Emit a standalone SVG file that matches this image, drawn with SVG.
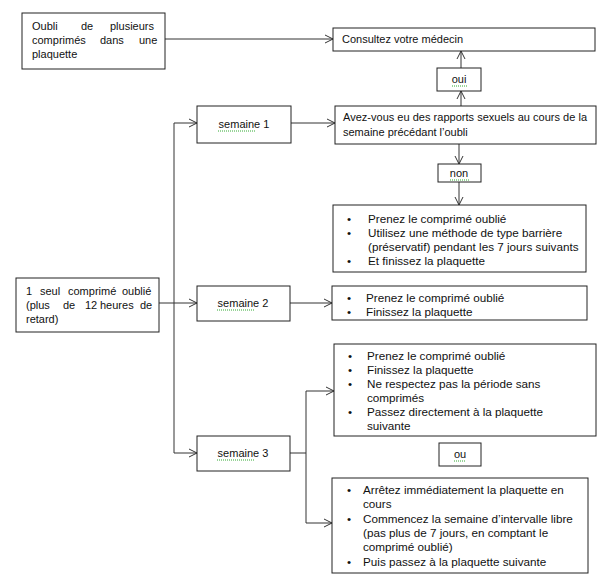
<svg xmlns="http://www.w3.org/2000/svg" width="607" height="588" viewBox="0 0 607 588">
<style>
.box{fill:#fff;stroke:#222;stroke-width:1}
.t{font-family:"Liberation Sans",Arial,sans-serif;font-size:11px;fill:#111}
.b{font-family:"Liberation Sans",Arial,sans-serif;font-size:11.7px;fill:#111}
.c{text-anchor:middle}
.ln{fill:none;stroke:#333;stroke-width:1}
.sq{fill:none;stroke:#3a3;stroke-width:1;stroke-dasharray:1 1}
</style>
<defs>
<marker id="a" markerWidth="10" markerHeight="10" refX="9" refY="5" orient="auto" markerUnits="userSpaceOnUse">
<path d="M1,1 L9,5 L1,9" fill="none" stroke="#333" stroke-width="1"/>
</marker>
</defs>
<rect width="607" height="588" fill="#fff"/>
<g id="connectors">
<line class="ln" x1="165" y1="39" x2="333" y2="39" marker-end="url(#a)"/>
<line class="ln" x1="461" y1="106" x2="461" y2="91" marker-end="url(#a)"/>
<line class="ln" x1="461" y1="68" x2="461" y2="51" marker-end="url(#a)"/>
<line class="ln" x1="459" y1="144" x2="459" y2="164" marker-end="url(#a)"/>
<line class="ln" x1="459" y1="182" x2="459" y2="205" marker-end="url(#a)"/>
<line class="ln" x1="291" y1="123" x2="335" y2="123" marker-end="url(#a)"/>
<line class="ln" x1="174" y1="123" x2="174" y2="453"/>
<line class="ln" x1="174" y1="123" x2="197" y2="123" marker-end="url(#a)"/>
<line class="ln" x1="174" y1="453" x2="197" y2="453" marker-end="url(#a)"/>
<line class="ln" x1="159" y1="303" x2="197" y2="303" marker-end="url(#a)"/>
<line class="ln" x1="290" y1="303" x2="332" y2="303" marker-end="url(#a)"/>
<polyline class="ln" points="290,453 306,453"/>
<line class="ln" x1="306" y1="391" x2="306" y2="523"/>
<line class="ln" x1="306" y1="391" x2="334" y2="391" marker-end="url(#a)"/>
<line class="ln" x1="306" y1="523" x2="332" y2="523" marker-end="url(#a)"/>
</g>
<g id="n-plusieurs">
<rect class="box" x="22" y="13" width="143" height="56"/>
<text class="t" y="30"><tspan x="32">Oubli</tspan><tspan x="81">de</tspan><tspan x="110">plusieurs</tspan></text>
<text class="t" y="44"><tspan x="32">comprimés</tspan><tspan x="100">dans</tspan><tspan x="139">une</tspan></text>
<text class="t" x="32" y="58">plaquette</text>
</g>
<g id="n-medecin">
<rect class="box" x="333" y="28" width="262" height="23"/>
<text class="t" x="342" y="43">Consultez votre médecin</text>
</g>
<g id="n-oui">
<rect class="box" x="437" y="68" width="44" height="23"/>
<text class="t c" x="459" y="83">oui</text>
<path class="sq" d="M452,86 H467"/>
</g>
<g id="n-question">
<rect class="box" x="335" y="106" width="261" height="38"/>
<text class="t" x="343" y="121" textLength="244" lengthAdjust="spacing">Avez-vous eu des rapports sexuels au cours de la</text>
<text class="t" x="343" y="136">semaine précédant  l’oubli</text>
</g>
<g id="n-semaine1">
<rect class="box" x="197" y="106" width="94" height="37"/>
<text class="t c" x="244" y="128">semaine 1</text>
<path class="sq" d="M218,131 H256"/>
</g>
<g id="n-non">
<rect class="box" x="438" y="164" width="43" height="18"/>
<text class="t c" x="459" y="177">non</text>
<path class="sq" d="M450,180 H469"/>
</g>
<g id="n-s1-actions">
<rect class="box" x="333" y="205" width="253" height="67"/>
<g class="b">
<text x="347" y="223">•</text><text x="368" y="223">Prenez le comprimé oublié</text>
<text x="347" y="237">•</text><text x="368" y="237">Utilisez une méthode de type barrière</text>
<text x="368" y="251">(préservatif) pendant les 7 jours suivants</text>
<text x="347" y="265">•</text><text x="368" y="265">Et finissez la plaquette</text>
</g>
</g>
<g id="n-un-seul">
<rect class="box" x="16" y="278" width="143" height="54"/>
<text class="t" y="295"><tspan x="26">1</tspan><tspan x="40">seul</tspan><tspan x="68">comprimé</tspan><tspan x="122">oublié</tspan></text>
<text class="t" y="309"><tspan x="26">(plus</tspan><tspan x="63">de</tspan><tspan x="85">12</tspan><tspan x="100">heures</tspan><tspan x="140">de</tspan></text>
<text class="t" x="26" y="323">retard)</text>
</g>
<g id="n-semaine2">
<rect class="box" x="197" y="286" width="93" height="35"/>
<text class="t c" x="243" y="307">semaine 2</text>
<path class="sq" d="M217,310 H255"/>
</g>
<g id="n-s2-actions">
<rect class="box" x="332" y="286" width="255" height="34"/>
<g class="b">
<text x="347" y="302">•</text><text x="366" y="302">Prenez le comprimé oublié</text>
<text x="347" y="316">•</text><text x="366" y="316">Finissez la plaquette</text>
</g>
</g>
<g id="n-s3-continue">
<rect class="box" x="334" y="344" width="262" height="92"/>
<g class="b">
<text x="348" y="360">•</text><text x="367" y="360">Prenez le comprimé oublié</text>
<text x="348" y="374">•</text><text x="367" y="374">Finissez la plaquette</text>
<text x="348" y="388">•</text><text x="367" y="388">Ne respectez pas la période sans</text>
<text x="367" y="402">comprimés</text>
<text x="348" y="416">•</text><text x="367" y="416">Passez directement à la plaquette</text>
<text x="367" y="430">suivante</text>
</g>
</g>
<g id="n-semaine3">
<rect class="box" x="197" y="436" width="93" height="35"/>
<text class="t c" x="243" y="457">semaine 3</text>
<path class="sq" d="M217,460 H255"/>
</g>
<g id="n-ou">
<rect class="box" x="439" y="443" width="42" height="23"/>
<text class="t c" x="460" y="458">ou</text>
<path class="sq" d="M454,461 H466"/>
</g>
<g id="n-s3-stop">
<rect class="box" x="332" y="478" width="256" height="95"/>
<g class="b">
<text x="347" y="494">•</text><text x="363" y="494">Arrêtez immédiatement la plaquette en</text>
<text x="363" y="508">cours</text>
<text x="347" y="523">•</text><text x="363" y="523">Commencez la semaine d’intervalle libre</text>
<text x="363" y="537">(pas plus de 7 jours, en comptant le</text>
<text x="363" y="551">comprimé oublié)</text>
<text x="347" y="566">•</text><text x="363" y="566">Puis passez à la plaquette suivante</text>
</g>
</g>
</svg>
